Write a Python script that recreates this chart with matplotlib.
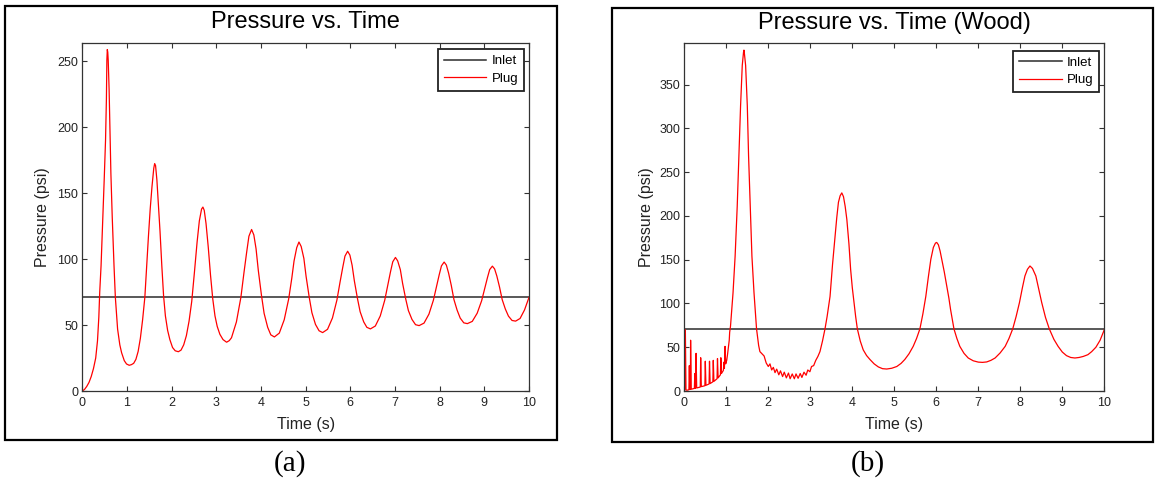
import matplotlib
matplotlib.use("Agg")
import matplotlib.pyplot as plt
from matplotlib.patches import Rectangle

plt.rcParams["font.family"] = ["Liberation Sans", "DejaVu Sans"]

# ---------------- data ----------------
inlet_time = [0, 10]
inlet_a = [71, 71]
inlet_b = [71, 71]

time_a = [
    0.00, 0.05, 0.10, 0.15, 0.20, 0.25, 0.30, 0.34, 0.37, 0.39, 0.42, 0.45,
    0.49, 0.52, 0.54, 0.55, 0.56, 0.57, 0.58, 0.60, 0.62, 0.64, 0.67, 0.71,
    0.74, 0.79, 0.84, 0.88, 0.94, 0.99, 1.05, 1.10, 1.15, 1.20, 1.25, 1.30,
    1.35, 1.40, 1.44, 1.48, 1.52, 1.56, 1.60, 1.62, 1.64, 1.67, 1.70, 1.74,
    1.78, 1.82, 1.86, 1.91, 1.96, 2.02, 2.08, 2.15, 2.21, 2.27, 2.33, 2.39,
    2.45, 2.51, 2.57, 2.62, 2.67, 2.70, 2.73, 2.77, 2.82, 2.87, 2.92, 2.97,
    3.02, 3.08, 3.15, 3.23, 3.29, 3.34, 3.45, 3.55, 3.62, 3.68, 3.73, 3.79,
    3.84, 3.89, 3.94, 4.01, 4.07, 4.15, 4.22, 4.30, 4.41, 4.52, 4.62, 4.69,
    4.74, 4.80, 4.85, 4.90, 4.96, 5.01, 5.08, 5.14, 5.22, 5.30, 5.38, 5.49,
    5.60, 5.70, 5.77, 5.83, 5.88, 5.94, 5.99, 6.04, 6.09, 6.16, 6.22, 6.30,
    6.37, 6.45, 6.56, 6.67, 6.77, 6.84, 6.90, 6.95, 7.01, 7.06, 7.12, 7.17,
    7.24, 7.30, 7.38, 7.46, 7.54, 7.65, 7.76, 7.86, 7.93, 7.99, 8.04, 8.10,
    8.15, 8.20, 8.26, 8.32, 8.39, 8.46, 8.54, 8.62, 8.73, 8.84, 8.94, 9.01,
    9.07, 9.12, 9.18, 9.23, 9.28, 9.34, 9.40, 9.47, 9.54, 9.62, 9.70, 9.80,
    9.90, 10.00,
]
plug_a = [
    0, 1.2, 3.5, 6.5, 11, 17, 25, 38, 56, 75, 95, 122,
    160, 190, 222, 251, 259, 257, 251, 229, 198, 165, 132, 95,
    71, 47, 35, 29, 23, 20.5, 19.5, 20, 21, 24, 30, 40,
    54, 71, 94, 117, 138, 155, 169, 172.5, 171, 160, 143, 121,
    95, 72, 57, 46, 39, 33, 30.5, 29.8, 31, 35, 42, 53,
    68, 90, 113, 129, 138, 139.5, 137, 127, 109, 88, 70, 57,
    49, 43, 39, 37, 38.2, 40.4, 52.4, 71, 90, 105.4, 117.4, 122.5,
    118.4, 107.8, 91.5, 72.8, 58.9, 48.3, 42.6, 41, 43.9, 54, 69.8, 85.6,
    98.6, 108.7, 113, 109.6, 100.6, 86.9, 71.1, 59.4, 50.5, 45.7, 44.3, 46.8,
    55.4, 69, 82.6, 93.7, 102.3, 106, 103.1, 95.4, 83.6, 70.1, 60.1, 52.4,
    48.3, 47.1, 49.3, 56.9, 68.8, 80.7, 90.5, 98, 101.3, 98.7, 92, 81.7,
    69.8, 61, 54.3, 50.3, 49.6, 51.5, 58.3, 68.9, 79.5, 88.2, 94.9, 97.8,
    95.5, 89.4, 80.1, 69.3, 61.4, 55.3, 51.7, 51.1, 52.8, 59, 68.5, 78.1,
    86, 92.1, 94.7, 92.6, 87.2, 78.9, 69.3, 62.2, 56.8, 53.5, 53, 55,
    61.5, 71,
]

time_b = [
    0.000, 0.010, 0.025, 0.040, 0.080, 0.110, 0.120, 0.130, 0.145, 0.150,
    0.165, 0.240, 0.250, 0.260, 0.270, 0.280, 0.295, 0.380, 0.390, 0.405,
    0.490, 0.500, 0.515, 0.590, 0.600, 0.615, 0.680, 0.690, 0.705, 0.780,
    0.790, 0.805, 0.860, 0.870, 0.885, 0.930, 0.945, 0.955, 0.970, 0.985,
    1.010, 1.030, 1.050, 1.070, 1.080, 1.100, 1.160, 1.210, 1.260, 1.300,
    1.340, 1.380, 1.410, 1.420, 1.430, 1.460, 1.500, 1.530, 1.570, 1.610,
    1.660, 1.720, 1.770, 1.800, 1.860, 1.900, 1.950, 2.000, 2.040, 2.080,
    2.120, 2.160, 2.200, 2.250, 2.290, 2.340, 2.380, 2.430, 2.480, 2.520,
    2.570, 2.620, 2.660, 2.710, 2.760, 2.800, 2.850, 2.900, 2.940, 2.990,
    3.030, 3.080, 3.130, 3.180, 3.230, 3.290, 3.350, 3.400, 3.470, 3.530,
    3.590, 3.630, 3.670, 3.710, 3.750, 3.790, 3.830, 3.870, 3.920, 3.960,
    4.000, 4.040, 4.080, 4.120, 4.190, 4.260, 4.340, 4.420, 4.520, 4.620,
    4.720, 4.820, 4.940, 5.060, 5.160, 5.250, 5.350, 5.450, 5.530, 5.610,
    5.680, 5.750, 5.810, 5.870, 5.930, 5.980, 6.010, 6.050, 6.090, 6.130,
    6.190, 6.250, 6.300, 6.340, 6.380, 6.420, 6.490, 6.560, 6.660, 6.760,
    6.880, 7.000, 7.100, 7.200, 7.300, 7.400, 7.520, 7.640, 7.730, 7.820,
    7.900, 7.980, 8.050, 8.110, 8.170, 8.230, 8.290, 8.370, 8.440, 8.510,
    8.600, 8.690, 8.800, 8.900, 9.000, 9.100, 9.200, 9.300, 9.400, 9.500,
    9.610, 9.700, 9.800, 9.900, 10.000,
]
plug_b = [
    0, 2, 70, 1, 1, 1.5, 29, 2, 2, 58,
    2, 3, 20, 3, 3.5, 43, 3.5, 4.5, 38, 5,
    6, 34, 6.5, 8, 34, 8.5, 10.5, 35, 11, 14,
    37, 15, 18.5, 38, 20, 23.5, 33, 26, 51, 31,
    35, 42, 50, 58, 67, 74, 112, 154, 211, 269,
    326, 372, 387, 389.4, 386, 372, 326, 269, 211, 154,
    112, 71, 52, 45, 42, 40, 32, 28, 31, 24,
    27, 21, 25, 18.5, 23, 16.5, 21.5, 15, 20.5, 14,
    19.5, 14, 19.5, 14.5, 20, 15.5, 21.5, 18, 24, 22,
    28, 29, 35, 39.4, 45, 57, 71, 85, 108, 145,
    177, 198, 215.6, 223, 226.3, 222, 211, 196, 168, 139,
    118, 101, 85, 71, 57, 47, 40.5, 36, 31, 27.5,
    25.5, 25.1, 26, 28, 31.5, 36, 42.5, 51, 60, 71,
    88, 108, 130, 150.5, 164, 169, 169.7, 167, 160, 150.5,
    136, 120, 106, 93, 82, 71, 60, 51, 43, 37.7,
    34.5, 33, 32.7, 33.2, 35, 37.7, 43.5, 51, 60, 71,
    85, 101, 118, 131.4, 139, 142.8, 140, 131.4, 116, 101,
    84, 71, 59, 51, 44.5, 40.4, 38.3, 37.7, 38.3, 39.5,
    41.5, 45, 50, 58, 70,
]

x_ticks = list(range(0, 11))
y_ticks_a = [0, 50, 100, 150, 200, 250]
y_ticks_b = [0, 50, 100, 150, 200, 250, 300, 350]

# ---------------- layout (pixels) ----------------
W, H = 1155, 482
fig = plt.figure(figsize=(W / 100, H / 100), dpi=100)
fig.patch.set_facecolor("white")


def fx(px):
    return px / W


def fy(py):
    return 1 - py / H


panels = [
    dict(box=(82.3, 42.7, 529.0, 391.0), frame=(5, 6, 557, 440),
         title="Pressure vs. Time", title_y=28.5,
         t=time_a, p=plug_a, inlet=inlet_a, yticks=y_ticks_a,
         ylab_x=42, xlab_y=424, leg=(524, 49), tag="(a)", tag_x=290),
    dict(box=(684.3, 43.3, 1104.3, 391.0), frame=(612, 7.5, 1153, 441.5),
         title="Pressure vs. Time (Wood)", title_y=29.5,
         t=time_b, p=plug_b, inlet=inlet_b, yticks=y_ticks_b,
         ylab_x=646, xlab_y=425, leg=(1099.4, 50.7), tag="(b)", tag_x=868),
]

axis_col = "#333333"
text_col = "#222222"

for pn in panels:
    x0, y0, x1, y1 = pn["box"]
    ax = fig.add_axes([fx(x0), fy(y1), (x1 - x0) / W, (y1 - y0) / H])

    ax.plot(inlet_time, pn["inlet"], color="#2b2b2b", lw=1.1, label="Inlet")
    ax.plot(pn["t"], pn["p"], color="red", lw=0.9, label="Plug")

    ax.set_xlim(0, 10)
    ax.set_ylim(0, 1.02 * max(pn["p"]))
    ax.set_xticks(x_ticks)
    ax.set_yticks(pn["yticks"])
    ax.tick_params(direction="in", length=3.5, width=0.8, top=True, right=True,
                   labelsize=9, color=axis_col, labelcolor=text_col)
    ax.tick_params(axis="x", pad=4)
    ax.tick_params(axis="y", pad=3)
    for s in ax.spines.values():
        s.set_color(axis_col)
        s.set_linewidth(0.9)

    leg = ax.legend(loc="upper right",
                    bbox_to_anchor=(fx(pn["leg"][0]), fy(pn["leg"][1])),
                    bbox_transform=fig.transFigure, borderaxespad=0,
                    fontsize=9.5, handlelength=3.2, handletextpad=0.4,
                    labelspacing=0.4, borderpad=0.45, fancybox=False,
                    framealpha=1)
    leg.get_frame().set_edgecolor("#222222")
    leg.get_frame().set_linewidth(1.3)

    cx = (x0 + x1) / 2
    fig.text(fx(cx), fy(pn["title_y"]), pn["title"], ha="center",
             va="baseline", fontsize=17, color="black")
    fig.text(fx(cx), fy(pn["xlab_y"]), "Time (s)", ha="center", va="center",
             fontsize=11.5, color=text_col)
    fig.text(fx(pn["ylab_x"]), fy((y0 + y1) / 2), "Pressure (psi)",
             ha="center", va="center", rotation=90, fontsize=11.5,
             color=text_col)

    fl, ft, fr, fb = pn["frame"]
    fig.patches.append(Rectangle((fx(fl), fy(fb)), (fr - fl) / W,
                                 (fb - ft) / H, transform=fig.transFigure,
                                 fill=False, edgecolor="black", lw=1.6))

    fig.text(fx(pn["tag_x"]), fy(464), pn["tag"], ha="center", va="center",
             fontsize=21, family=["Liberation Serif", "DejaVu Serif"],
             color="black")

fig.savefig("out.png", dpi=100, facecolor="white")
